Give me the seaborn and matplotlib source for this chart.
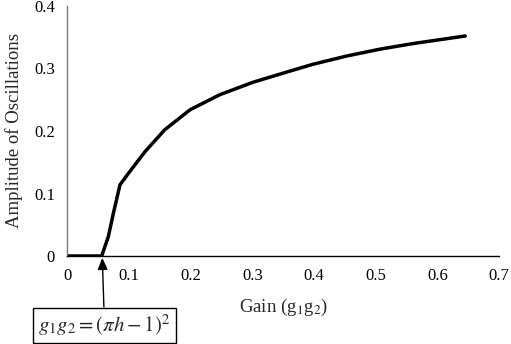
import matplotlib
matplotlib.use("Agg")
import matplotlib.pyplot as plt
import seaborn as sns
import pandas as pd

gain = [0.0, 0.02, 0.04, 0.0557, 0.0665, 0.0746, 0.0854, 0.0989, 0.126, 0.158, 0.199,
        0.247, 0.301, 0.358, 0.399, 0.453, 0.507, 0.561, 0.645]
amplitude = [0.0, 0.0, 0.0, 0.0, 0.031, 0.068, 0.114, 0.132, 0.167, 0.202, 0.234,
             0.258, 0.278, 0.295, 0.307, 0.320, 0.331, 0.340, 0.352]
x_ticks = [0, 0.1, 0.2, 0.3, 0.4, 0.5, 0.6, 0.7]
x_tick_labels = ["0", "0.1", "0.2", "0.3", "0.4", "0.5", "0.6", "0.7"]
y_ticks = [0, 0.1, 0.2, 0.3, 0.4]
y_tick_labels = ["0", "0.1", "0.2", "0.3", "0.4"]
threshold = 0.0567

sns.set_style("white")
plt.rcParams["font.family"] = ["Liberation Serif", "DejaVu Serif"]
plt.rcParams["mathtext.fontset"] = "stix"

df = pd.DataFrame({"gain": gain, "amp": amplitude})

fig = plt.figure(figsize=(5.11, 3.44), dpi=100)
ax = fig.add_axes([67.3 / 511, 88 / 344, (499.2 - 67.3) / 511, 250 / 344])
sns.lineplot(data=df, x="gain", y="amp", ax=ax, color="black", linewidth=2.5)
ax.lines[0].set_solid_joinstyle("round")

ax.set_xlim(0, 0.7)
ax.set_ylim(0, 0.4)
ax.set_xticks(x_ticks)
ax.set_xticklabels(x_tick_labels)
ax.set_yticks(y_ticks)
ax.set_yticklabels(y_tick_labels)
ax.set_xlabel("Gain (g$_1$g$_2$)", fontsize=13.5, labelpad=9)
ax.set_ylabel("Amplitude of Oscillations", fontsize=13.5, labelpad=8)
ax.tick_params(axis="both", direction="in", length=4, labelsize=12, pad=9,
               width=0.8, colors="black")
ax.tick_params(axis="y", color="#777777")

for s in ["top", "right"]:
    ax.spines[s].set_visible(False)
ax.spines["bottom"].set_color("black")
ax.spines["bottom"].set_linewidth(1.0)
ax.spines["left"].set_color("#777777")
ax.spines["left"].set_linewidth(1.0)

ax.annotate(r"$g_1g_2=\left(\pi h-1\right)^2$",
            xy=(threshold, -0.003), xycoords="data",
            xytext=(104.5, 18.5), textcoords="figure pixels",
            ha="center", va="center", fontsize=15,
            bbox=dict(boxstyle="square,pad=0.25", fc="white", ec="black", lw=1),
            arrowprops=dict(arrowstyle="-|>,head_length=0.7,head_width=0.3",
                            mutation_scale=10,
                            color="black", lw=1, shrinkA=0, shrinkB=0),
            annotation_clip=False)

fig.savefig("out.png", dpi=100)
